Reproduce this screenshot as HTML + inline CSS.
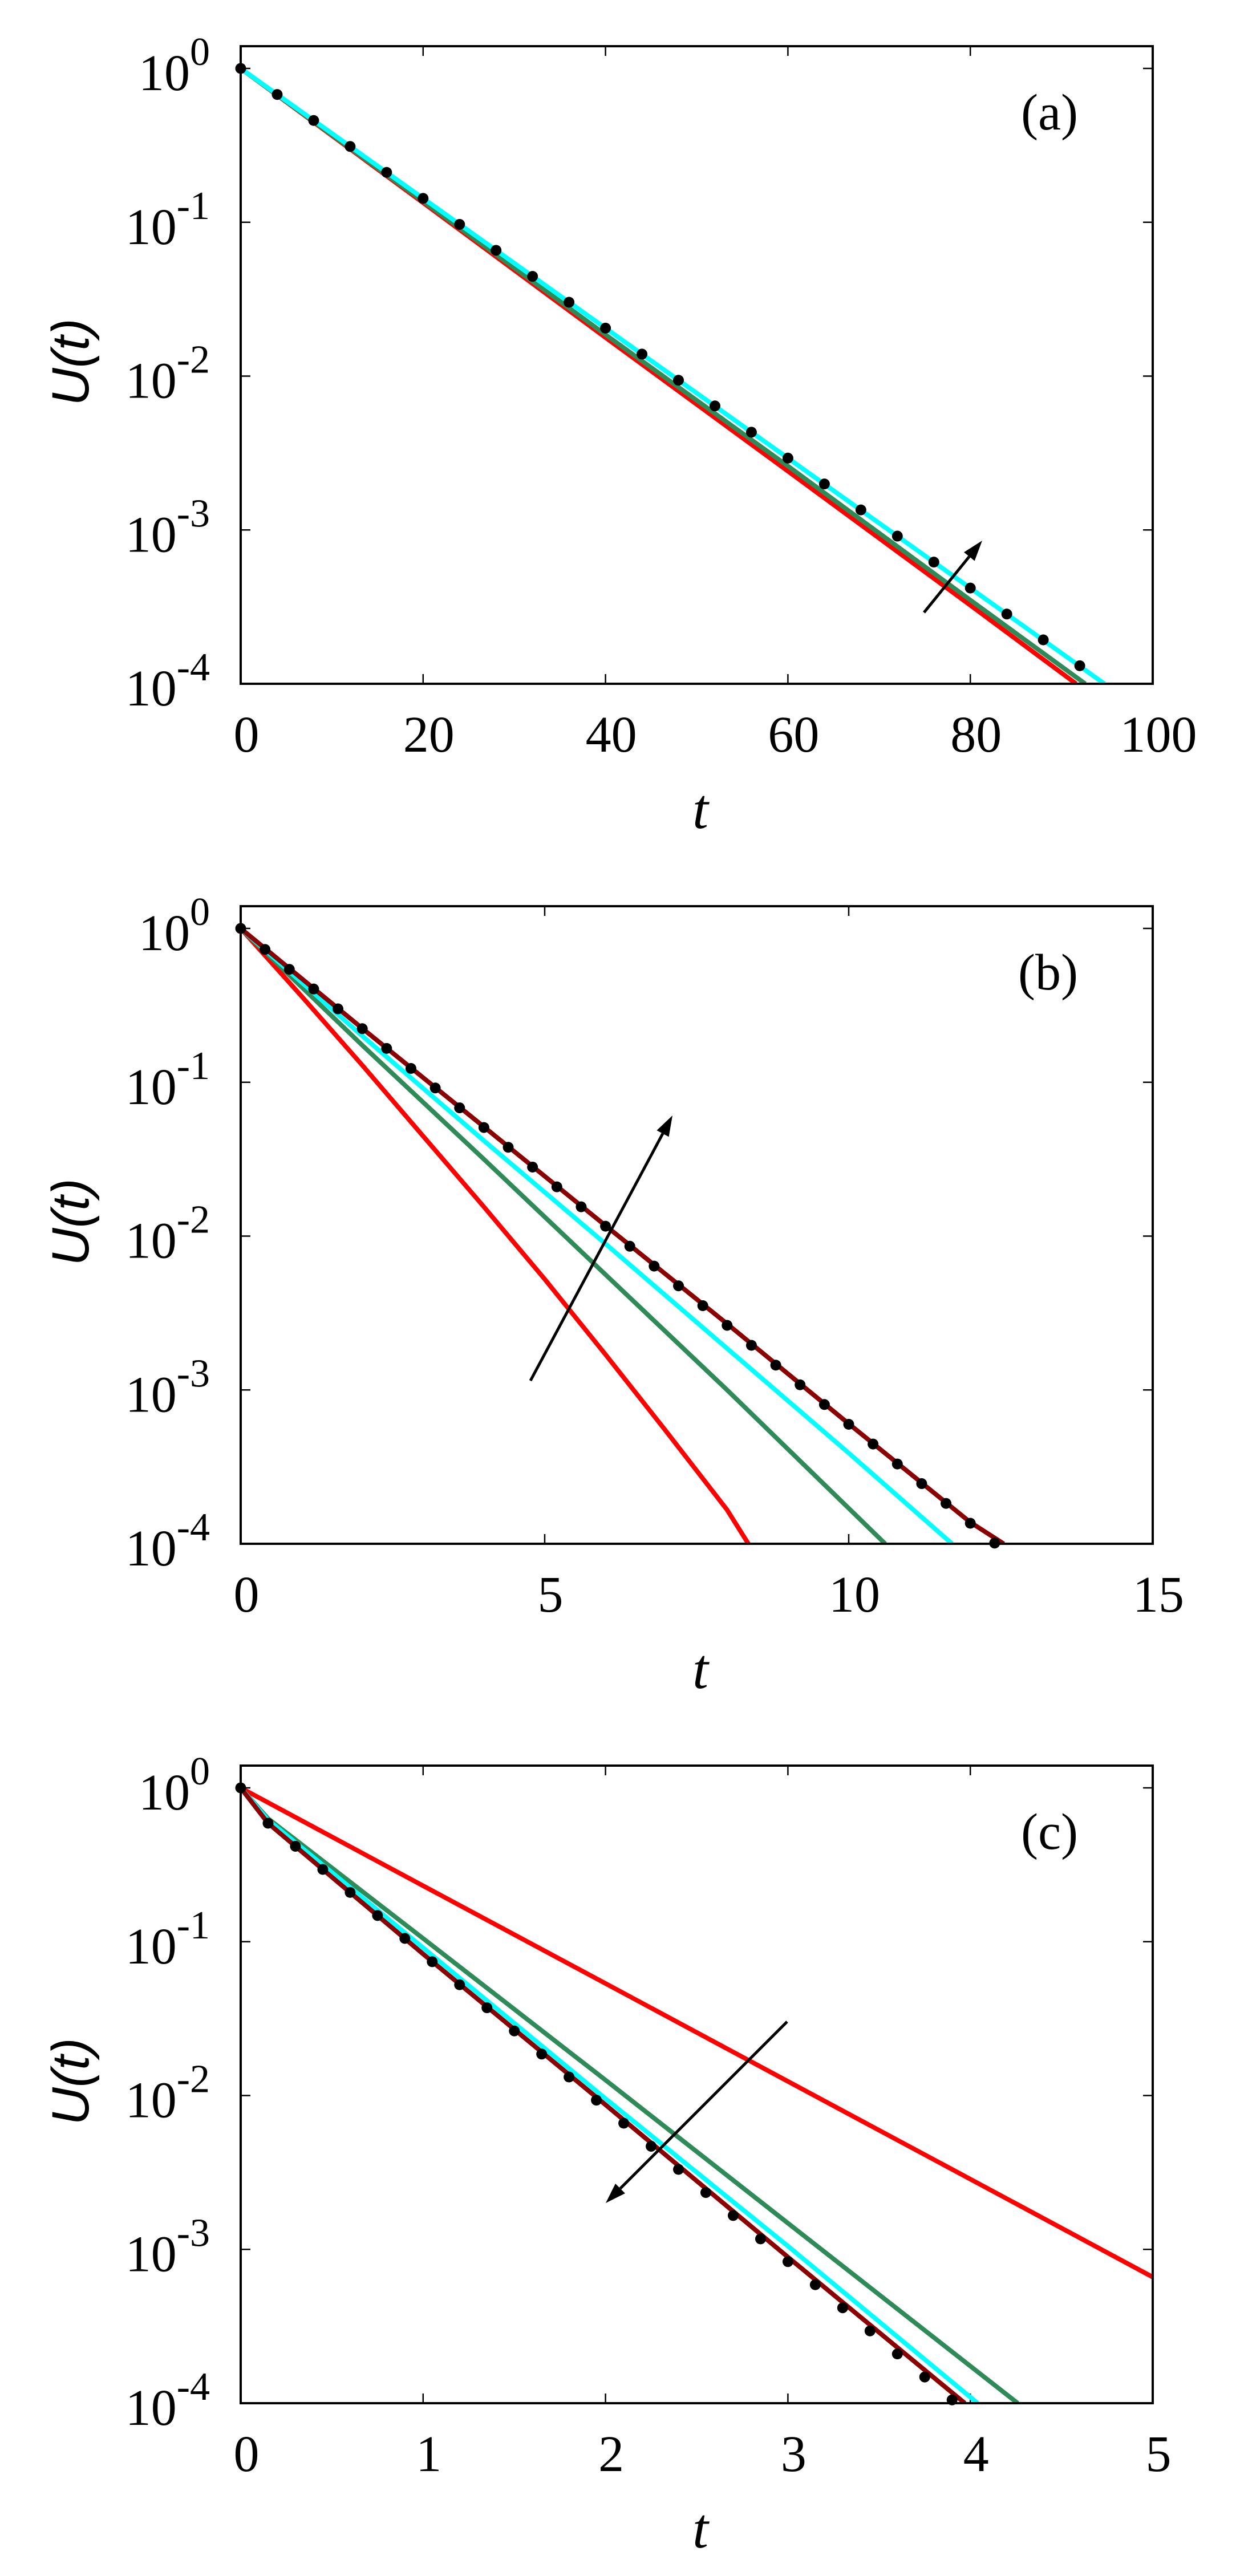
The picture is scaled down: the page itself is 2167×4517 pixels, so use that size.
<!DOCTYPE html>
<html><head><meta charset="utf-8">
<style>
html,body{margin:0;padding:0;background:#fff;}
svg{display:block;}
</style></head>
<body>
<svg id="fig" xmlns="http://www.w3.org/2000/svg" width="2167" height="4517" viewBox="0 0 2167 4517">
<defs>
<clipPath id="clipA"><rect x="422" y="81" width="1599" height="1118"/></clipPath>
<clipPath id="clipB"><rect x="422" y="1589" width="1599" height="1118"/></clipPath>
<clipPath id="clipC"><rect x="422" y="3096" width="1599" height="1118"/></clipPath>
</defs>
</svg>
<script>
// ---------- Panel (a) data ----------
const aXTicks = [0, 20, 40, 60, 80, 100];
const aDotT = [0,4,8,12,16,20,24,28,32,36,40,44,48,52,56,60,64,68,72,76,80,84,88,92];
const aDotU = [1,0.677,0.459,0.311,0.211,0.143,0.0969,0.0657,0.0445,0.0302,0.0205,0.0139,0.0094,0.0064,0.00432,0.00293,0.00199,0.00135,0.000912,0.000618,0.000419,0.000284,0.000193,0.000131];
const aRedT = [0,20,40,60,80,91.6];
const aRedU = [1,0.134,0.0178,0.00241,0.000324,0.0001];
const aGreenT = [0,20,40,60,80,92.6];
const aGreenU = [1,0.137,0.0186,0.0026,0.00035,0.0001];
const aCyanT = [0,20,40,60,80,94.7];
const aCyanU = [1,0.143,0.0205,0.00293,0.000419,0.0001];

// ---------- Panel (b) data ----------
const bXTicks = [0, 5, 10, 15];
const bDotT = [0,0.4,0.8,1.2,1.6,2,2.4,2.8,3.2,3.6,4,4.4,4.8,5.2,5.6,6,6.4,6.8,7.2,7.6,8,8.4,8.8,9.2,9.6,10,10.4,10.8,11.2,11.6,12,12.4];
const bDotU = [1,0.730,0.542,0.404,0.300,0.223,0.166,0.123,0.0918,0.0682,0.0508,0.0378,0.0281,0.0209,0.0155,0.0116,0.00859,0.00638,0.00475,0.00353,0.00263,0.00195,0.00145,0.00108,0.000804,0.000598,0.000445,0.000330,0.000246,0.000183,0.000136,0.000101];
const bRedT = [0,1,2,3,4,5,6,7,8,8.35];
const bRedU = [1,0.363,0.129,0.0447,0.0155,0.00525,0.0017,0.000537,0.000166,0.0001];
const bGreenT = [0,2,4,6,8,10,10.6];
const bGreenU = [1,0.174,0.0316,0.00562,0.001,0.00017,0.0001];
const bCyanT = [0,2,4,6,8,10,11.7];
const bCyanU = [1,0.2,0.0417,0.00891,0.00186,0.000389,0.0001];
const bDarkT = [0,2,4,6,8,10,12,12.55];
const bDarkU = [1,0.224,0.0513,0.0117,0.00269,0.000603,0.000138,0.0001];

// ---------- Panel (c) data ----------
const cXTicks = [0, 1, 2, 3, 4, 5];
const cDotT = [0,0.15,0.3,0.45,0.6,0.75,0.9,1.05,1.2,1.35,1.5,1.65,1.8,1.95,2.1,2.25,2.4,2.55,2.7,2.85,3,3.15,3.3,3.45,3.6,3.75,3.9];
const cDotU = [1,0.589,0.417,0.295,0.209,0.148,0.105,0.0741,0.0525,0.0372,0.0263,0.0186,0.0132,0.00933,0.00661,0.00468,0.00331,0.00234,0.00166,0.00117,0.000832,0.000589,0.000417,0.000295,0.000209,0.000148,0.000105];
const cRedT = [0,1,2,3,4,5];
const cRedU = [1,0.231,0.0535,0.01236,0.00286,0.000661];
const cGreenT = [0,0.15,0.5,1,2,3,4.26];
const cGreenU = [1,0.631,0.302,0.105,0.0126,0.00148,0.0001];
const cCyanT = [0,0.15,0.5,1,2,3,4.04];
const cCyanU = [1,0.617,0.282,0.0912,0.00955,0.00105,0.0001];
const cDarkT = [0,0.15,0.5,1,2,3,3.97];
const cDarkU = [1,0.589,0.263,0.0832,0.00871,0.000891,0.0001];

const yTickExp = [0, -1, -2, -3, -4];
const yTickLabels = ["0", "-1", "-2", "-3", "-4"];

const NS = "http://www.w3.org/2000/svg";
const svg = document.getElementById("fig");
function mk(tag, attrs, parent) {
  const e = document.createElementNS(NS, tag);
  for (const k in attrs) e.setAttribute(k, attrs[k]);
  (parent || svg).appendChild(e);
  return e;
}
const SERIF = "'Liberation Serif', serif";
const SANS = "'Liberation Sans', sans-serif";

const L = 422, R = 2021, H = 1118, DEC = 269.75;
function panel(id, top, xmax, xTicks, series, dotsT, dotsU, label, arrow, clipId) {
  const g = mk("g", {});
  
  
  const y0 = top + 39;
  const xs = t => L + (t / xmax) * (R - L);
  const ys = u => y0 - Math.log10(u) * DEC;
  const bottom = top + H;

  const ticks = mk("g", {stroke: "#000", "stroke-width": 2.5}, g);
  
  
  xTicks.forEach(v => {
    const x = xs(v);
    mk("line", {x1: x, y1: bottom, x2: x, y2: bottom - 17}, ticks);
    mk("line", {x1: x, y1: top, x2: x, y2: top + 17}, ticks);
    const t = mk("text", {x: x + 10, y: bottom + 119, "text-anchor": "middle", "font-family": SERIF, "font-size": 90, fill: "#000"}, g);
    
    
    t.textContent = String(v);
  });
  yTickExp.forEach((e, i) => {
    const y = ys(Math.pow(10, e));
    mk("line", {x1: L, y1: y, x2: L + 17, y2: y}, ticks);
    mk("line", {x1: R, y1: y, x2: R - 17, y2: y}, ticks);
    const t = mk("text", {x: 368, y: y + 38, "text-anchor": "end", "font-family": SERIF, "font-size": 90, fill: "#000"}, g);
    
    
    const base = mk("tspan", {}, t); base.textContent = "10";
    const sup = mk("tspan", {"font-size": 70, dy: -44}, t); sup.textContent = yTickLabels[i];
  });

  const sg = mk("g", {"clip-path": "url(#" + clipId + ")"}, g);
  series.forEach(s => {
    const d = s.t.map((t, i) => (i ? "L" : "M") + xs(t).toFixed(1) + "," + ys(s.u[i]).toFixed(1)).join("");
    const p = mk("path", {d: d, fill: "none", stroke: s.c, "stroke-width": 8, "stroke-linejoin": "round"}, sg);
    
    
  });
  const dg = mk("g", {fill: "#000"}, g);
  
  
  dotsT.forEach((t, i) => {
    const c = mk("circle", {cx: xs(t), cy: ys(dotsU[i]), r: 9.5}, dg);
    
    
  });

  const f = mk("rect", {x: L, y: top, width: R - L, height: H, fill: "none", stroke: "#000", "stroke-width": 4}, g);
  
  

  const [x1, y1, x2, y2] = arrow;
  const ang = Math.atan2(y2 - y1, x2 - x1), hl = 36, hw = 12;
  const bx = x2 - hl * Math.cos(ang), by = y2 - hl * Math.sin(ang);
  const ag = mk("g", {}, g);
  
  
  mk("line", {x1: x1, y1: y1, x2: bx, y2: by, stroke: "#000", "stroke-width": 5}, ag);
  mk("polygon", {points: [x2, y2, bx - hw * Math.sin(ang), by + hw * Math.cos(ang), bx + hw * Math.sin(ang), by - hw * Math.cos(ang)].join(" "), fill: "#000"}, ag);

  const pl = mk("text", {x: 1890, y: top + 146, "text-anchor": "end", "font-family": SERIF, "font-size": 90, fill: "#000"}, g);
  
  
  pl.textContent = label;
  const yt = mk("text", {x: 0, y: 0, transform: "translate(155," + (top + H / 2 - 5) + ") rotate(-90)", "text-anchor": "middle", "font-family": SANS, "font-style": "italic", "font-size": 92, fill: "#000"}, g);
  
  
  yt.textContent = "U(t)";
  const xt = mk("text", {x: 1228, y: bottom + 253, "text-anchor": "middle", "font-family": SERIF, "font-style": "italic", "font-size": 100, fill: "#000"}, g);
  
  
  xt.textContent = "t";
}

panel("a", 81, 100, aXTicks, [
  {name: "red-curve", c: "#ff0000", t: aRedT, u: aRedU},
  {name: "green-curve", c: "#2e8b57", t: aGreenT, u: aGreenU},
  {name: "cyan-curve", c: "#00ffff", t: aCyanT, u: aCyanU}
], aDotT, aDotU, "(a)", [1620, 1074, 1722, 948], "clipA");

panel("b", 1589, 15, bXTicks, [
  {name: "red-curve", c: "#ff0000", t: bRedT, u: bRedU},
  {name: "green-curve", c: "#2e8b57", t: bGreenT, u: bGreenU},
  {name: "cyan-curve", c: "#00ffff", t: bCyanT, u: bCyanU},
  {name: "darkred-curve", c: "#8b0000", t: bDarkT, u: bDarkU}
], bDotT, bDotU, "(b)", [930, 2421, 1179, 1956], "clipB");

panel("c", 3096, 5, cXTicks, [
  {name: "red-curve", c: "#ff0000", t: cRedT, u: cRedU},
  {name: "green-curve", c: "#2e8b57", t: cGreenT, u: cGreenU},
  {name: "cyan-curve", c: "#00ffff", t: cCyanT, u: cCyanU},
  {name: "darkred-curve", c: "#8b0000", t: cDarkT, u: cDarkU}
], cDotT, cDotU, "(c)", [1380, 3545, 1062, 3863], "clipC");
</script>
</body></html>
